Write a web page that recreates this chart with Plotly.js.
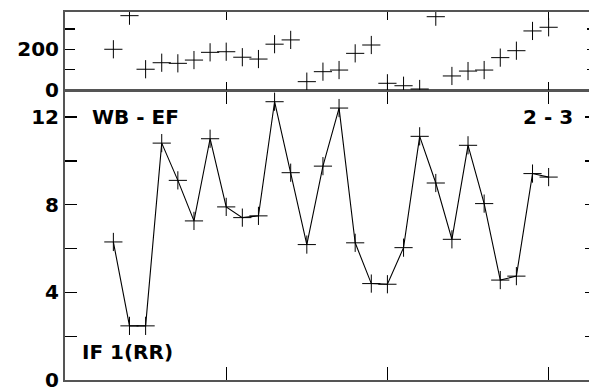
<!DOCTYPE html>
<html>
<head>
<meta charset="utf-8">
<script src="https://cdn.plot.ly/plotly-3.0.1.min.js"></script>
<style>
html,body{margin:0;padding:0;overflow:hidden;background:#fff;}
#chart{width:597px;height:400px;}
</style>
</head>
<body>
<div id="chart"></div>
<script>
// x positions (sample index)
const xIndex = [3,4,5,6,7,8,9,10,11,12,13,14,15,16,17,18,19,20,21,22,23,24,25,26,27,28,29,30];
// upper panel values (WB - EF)
const wbValues = [200,365,102,134,131,147,185,188,161,152,225,246,41,90,98,180,221,33,21,5,360,69,93,98,159,193,290,308];
// lower panel values (IF 1(RR))
const ifValues = [6.3,2.47,2.47,10.81,9.11,7.26,11.01,7.9,7.41,7.49,12.7,9.46,6.18,9.76,12.41,6.26,4.4,4.37,6.04,11.12,8.99,6.42,10.71,8.05,4.56,4.74,9.42,9.26];
// tick definitions
const xTicks = [10,20,30];
const topYTicks = [0,100,200,300];
const topYLabels = ['0','','200',''];
const botYTicks = [0,2,4,6,8,10,12];
const botYLabels = ['0','','4','','8','','12'];
const labels = {topLeft:'WB - EF', topRight:'2 - 3', bottomLeft:'IF 1(RR)'};

const fnt = {family:'DejaVu Sans, Arial, sans-serif', size:20, color:'#000', weight:'bold'};
const marker = {symbol:'cross-thin', size:13, line:{width:1, color:'#000'}, color:'#000'};

const traces = [
  {x:xIndex, y:wbValues, xaxis:'x2', yaxis:'y2', mode:'markers', marker:marker, hoverinfo:'none'},
  {x:xIndex, y:ifValues, xaxis:'x', yaxis:'y', mode:'lines+markers', line:{color:'#000', width:1.1}, marker:marker, hoverinfo:'none'}
];

const axCommon = {showline:true, linecolor:'#555', linewidth:2, showgrid:false, zeroline:false,
  ticks:'inside', tickcolor:'#000', tickwidth:1.3, mirror:'ticks', tickfont:fnt, fixedrange:true,
  ticklabeloverflow:'allow'};

const layout = {
  width:597, height:400,
  margin:{l:65, r:0, t:12, b:20},
  paper_bgcolor:'#fff', plot_bgcolor:'#fff',
  showlegend:false,
  xaxis:Object.assign({}, axCommon, {range:[0,33], anchor:'y', tickvals:xTicks, showticklabels:false, ticklen:13}),
  xaxis2:Object.assign({}, axCommon, {range:[0,33], anchor:'y2', tickvals:xTicks, showticklabels:false, ticklen:8}),
  yaxis:Object.assign({}, axCommon, {domain:[0,0.786], range:[0,13.2], anchor:'x', tickvals:botYTicks, ticktext:botYLabels, ticklen:12}),
  yaxis2:Object.assign({}, axCommon, {domain:[0.788,1], range:[0,383], anchor:'x2', tickvals:topYTicks, ticktext:topYLabels, ticklen:10}),
  annotations:[
    {text:labels.topLeft, xref:'x', yref:'y', x:1.55, y:12, xanchor:'left', yanchor:'middle', showarrow:false, font:fnt},
    {text:labels.topRight, xref:'x', yref:'y', x:31.65, y:12, xanchor:'right', yanchor:'middle', showarrow:false, font:fnt},
    {text:labels.bottomLeft, xref:'x', yref:'y', x:0.95, y:1.28, xanchor:'left', yanchor:'middle', showarrow:false, font:fnt}
  ]
};

Plotly.newPlot('chart', traces, layout, {staticPlot:true, displayModeBar:false});
</script>
</body>
</html>
